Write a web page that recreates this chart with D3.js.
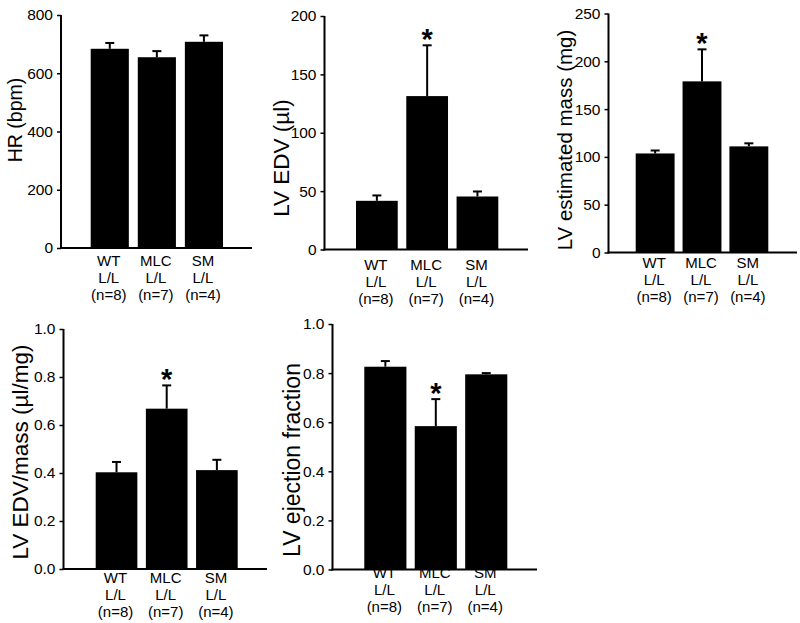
<!DOCTYPE html>
<html>
<head>
<meta charset="utf-8">
<script src="https://cdn.jsdelivr.net/npm/d3@7/dist/d3.min.js"></script>
<style>
  html, body { margin: 0; padding: 0; background: #fff; }
  svg { display: block; font-family: "Liberation Sans", Arial, sans-serif; }
</style>
</head>
<body>
<svg id="chart" width="800" height="623"></svg>
<script>
// ---- data ----
const categories = ["WT", "MLC", "SM"];
const genotypeLabels = ["L/L", "L/L", "L/L"];
const nLabels = ["(n=8)", "(n=7)", "(n=4)"];

const hrMean = [684, 655, 708];
const hrSem = [20, 21, 22];

const edvMean = [41.7, 131.4, 45.4];
const edvSem = [4.6, 43.5, 4.3];

const massMean = [103.6, 179.0, 111.0];
const massSem = [3.1, 33.5, 3.2];

const edvMassMean = [0.403, 0.668, 0.412];
const edvMassSem = [0.043, 0.097, 0.043];

const efMean = [0.826, 0.584, 0.795];
const efSem = [0.023, 0.110, 0.005];

const hrTicks = [0, 200, 400, 600, 800];
const edvTicks = [0, 50, 100, 150, 200];
const massTicks = [0, 50, 100, 150, 200, 250];
const ratioTicks = [0, 0.2, 0.4, 0.6, 0.8, 1.0];

const noStars = [false, false, false];
const significant = [false, true, false];
const efSignificant = [false, true, false];

// ---- panels (layout) ----
const panels = [
  { mean: hrMean, sem: hrSem, ticks: hrTicks, max: 800, fmt: d3.format("d"), label: "HR (bpm)", star: noStars,
    axisX: 61, top: 15, bottom: 248, xEnd: 252, b0: 90.7, b1: 223, pad: 0.19, labelX: 22, labelY: 120, labelSize: 19.5, catY: 266 },
  { mean: edvMean, sem: edvSem, ticks: edvTicks, max: 200, fmt: d3.format("d"), label: "LV EDV (µl)", star: significant,
    axisX: 324.5, top: 16, bottom: 249.5, xEnd: 528, b0: 356, b1: 498.3, pad: 0.17, labelX: 289, labelY: 158, labelSize: 22.5, catY: 270 },
  { mean: massMean, sem: massSem, ticks: massTicks, max: 250, fmt: d3.format("d"), label: "LV estimated mass (mg)", star: significant,
    axisX: 608.5, top: 13.5, bottom: 252.5, xEnd: 797, b0: 635.7, b1: 768.3, pad: 0.17, labelX: 572, labelY: 140, labelSize: 20.5, catY: 268 },
  { mean: edvMassMean, sem: edvMassSem, ticks: ratioTicks, max: 1.0, fmt: d3.format(".1f"), label: "LV EDV/mass (µl/mg)", star: significant,
    axisX: 63.5, top: 329, bottom: 569, xEnd: 267, b0: 95.7, b1: 237.7, pad: 0.17, labelX: 28, labelY: 452, labelSize: 22.5, catY: 583 },
  { mean: efMean, sem: efSem, ticks: ratioTicks, max: 1.0, fmt: d3.format(".1f"), label: "LV ejection fraction", star: efSignificant,
    axisX: 332.5, top: 324, bottom: 569.5, xEnd: 537, b0: 364.3, b1: 507.3, pad: 0.165, labelX: 300, labelY: 460, labelSize: 23, catY: 578 }
];

const svg = d3.select("#chart");

panels.forEach(p => {
  const g = svg.append("g");
  const y = d3.scaleLinear().domain([0, p.max]).range([p.bottom, p.top]);
  const x = d3.scaleBand().domain(categories).range([p.b0, p.b1]).paddingInner(p.pad).paddingOuter(0);

  // bars
  g.selectAll("rect.bar").data(categories).join("rect")
    .attr("x", d => x(d))
    .attr("width", x.bandwidth())
    .attr("y", (d, i) => y(p.mean[i]))
    .attr("height", (d, i) => y(0) - y(p.mean[i]))
    .attr("fill", "#000");

  // error bars (upper only)
  categories.forEach((c, i) => {
    const cx = x(c) + x.bandwidth() / 2;
    const yt = y(p.mean[i] + p.sem[i]);
    g.append("line").attr("x1", cx).attr("x2", cx)
      .attr("y1", y(p.mean[i])).attr("y2", yt)
      .attr("stroke", "#000").attr("stroke-width", 2);
    g.append("line").attr("x1", cx - 4.5).attr("x2", cx + 4.5)
      .attr("y1", yt).attr("y2", yt)
      .attr("stroke", "#000").attr("stroke-width", 2);
    if (p.star[i]) {
      g.append("text").attr("x", cx).attr("y", yt + 4)
        .attr("text-anchor", "middle").attr("font-size", 29)
        .attr("font-weight", "bold").text("*");
    }
  });

  // y axis
  const yAxis = d3.axisLeft(y).tickValues(p.ticks).tickFormat(p.fmt).tickSize(4).tickPadding(4);
  const ya = g.append("g").attr("transform", `translate(${p.axisX},0)`).call(yAxis);
  ya.select(".domain").attr("stroke-width", 2).attr("d", `M0,${p.top}V${p.bottom + 1}`);
  ya.selectAll(".tick line").attr("stroke-width", 1.5);
  ya.selectAll(".tick text").attr("font-size", 15.5).attr("font-family", "Liberation Sans, Arial, sans-serif").attr("fill", "#000");

  // x axis line
  g.append("line").attr("x1", p.axisX - 1).attr("x2", p.xEnd)
    .attr("y1", p.bottom).attr("y2", p.bottom)
    .attr("stroke", "#000").attr("stroke-width", 2);

  // category labels
  categories.forEach((c, i) => {
    const cx = x(c) + x.bandwidth() / 2 - 1;
    const t = g.append("text").attr("text-anchor", "middle").attr("font-size", 15).attr("fill", "#000");
    [c, genotypeLabels[i], nLabels[i]].forEach((s, k) => {
      t.append("tspan").attr("x", cx).attr("y", p.catY + k * 17).text(s);
    });
  });

  // y label
  g.append("text")
    .attr("transform", `translate(${p.labelX},${p.labelY}) rotate(-90)`)
    .attr("text-anchor", "middle")
    .attr("font-size", p.labelSize)
    .attr("fill", "#000")
    .text(p.label);
});
</script>
</body>
</html>
